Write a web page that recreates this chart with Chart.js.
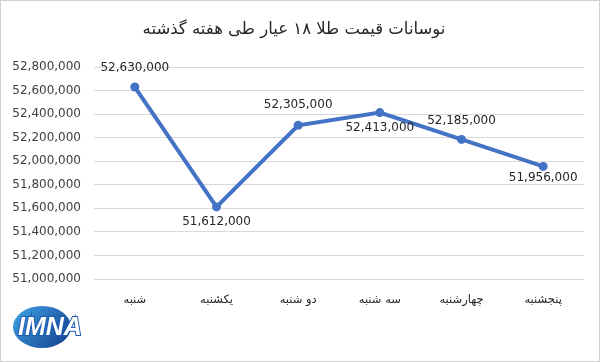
<!DOCTYPE html>
<html>
<head>
<meta charset="utf-8">
<script src="https://cdn.jsdelivr.net/npm/chart.js@4.4.1/dist/chart.umd.min.js"></script>
<style>
html,body{margin:0;padding:0;background:#fff;}
canvas{display:block;}
</style>
</head>
<body>
<canvas id="c" width="600" height="362"></canvas>
<script>
const titleText = 'نوسانات قیمت طلا ۱۸ عیار طی هفته گذشته';
const categories = ['شنبه', 'یکشنبه', 'دو شنبه', 'سه شنبه', 'چهارشنبه', 'پنجشنبه'];
const prices = [52630000, 51612000, 52305000, 52413000, 52185000, 51956000];
const yMin = 51000000;
const yMax = 52800000;
const yStep = 200000;

// label vertical offsets (style)
const labelDy = [-19, 15, -20, 15, -19, 11];

const fmt = v => Number(v).toLocaleString('en-US');

const framePlugin = {
  id: 'frame',
  beforeDraw(chart) {
    const ctx = chart.ctx;
    ctx.save();
    ctx.fillStyle = '#fff';
    ctx.fillRect(0, 0, chart.width, chart.height);
    ctx.strokeStyle = '#d0d0d0';
    ctx.lineWidth = 1;
    ctx.strokeRect(0.5, 0.5, chart.width - 1, chart.height - 1);
    // title
    ctx.fillStyle = '#262626';
    ctx.font = '16.5px "DejaVu Sans"';
    ctx.textAlign = 'center';
    ctx.textBaseline = 'middle';
    ctx.direction = 'rtl';
    ctx.fillText(titleText, 294, 30);
    ctx.restore();
  },
  afterDraw(chart) {
    const ctx = chart.ctx;
    ctx.save();
    // logo
    const g = ctx.createLinearGradient(15, 305, 70, 350);
    g.addColorStop(0, '#3fa3e6');
    g.addColorStop(1, '#123a8a');
    ctx.fillStyle = g;
    ctx.beginPath();
    ctx.ellipse(42, 327, 29, 21, 0, 0, Math.PI * 2);
    ctx.fill();
    ctx.font = 'bold italic 25px "Liberation Sans"';
    ctx.textAlign = 'left';
    ctx.textBaseline = 'middle';
    ctx.lineWidth = 2;
    ctx.strokeStyle = '#1d5bb0';
    ctx.strokeText('IMNA', 18, 328);
    ctx.fillStyle = '#fff';
    ctx.fillText('IMNA', 18, 328);
    ctx.restore();
  }
};

const labelPlugin = {
  id: 'pointLabels',
  afterDatasetsDraw(chart) {
    const ctx = chart.ctx;
    const meta = chart.getDatasetMeta(0);
    ctx.save();
    ctx.font = '12px "DejaVu Sans"';
    ctx.fillStyle = '#262626';
    ctx.textAlign = 'center';
    ctx.textBaseline = 'middle';
    meta.data.forEach((pt, i) => {
      ctx.fillText(fmt(chart.data.datasets[0].data[i]), pt.x, pt.y + labelDy[i]);
    });
    ctx.restore();
  }
};

new Chart(document.getElementById('c'), {
  type: 'line',
  data: {
    labels: categories,
    datasets: [{
      data: prices,
      borderColor: '#4472C4',
      backgroundColor: '#4472C4',
      borderWidth: 4,
      pointRadius: 4.5,
      pointBorderWidth: 0,
      pointHoverRadius: 4.5,
      pointBackgroundColor: '#4472C4',
      pointBorderColor: '#4472C4',
      tension: 0,
      fill: false
    }]
  },
  options: {
    responsive: false,
    animation: false,
    layout: { padding: { top: 67, right: 16, bottom: 0, left: 0 } },
    plugins: {
      legend: { display: false },
      title: { display: false },
      tooltip: { enabled: false }
    },
    scales: {
      x: {
        offset: true,
        grid: { display: false, drawTicks: false },
        border: { display: false },
        ticks: {
          color: '#262626',
          font: { family: '"DejaVu Sans"', size: 11.5 },
          padding: 14,
          maxRotation: 0,
          autoSkip: false
        },
        afterFit(scale) { scale.height = 83; }
      },
      y: {
        min: yMin,
        max: yMax,
        grid: { color: '#d9d9d9', drawTicks: false, lineWidth: 1 },
        border: { display: false },
        ticks: {
          stepSize: yStep,
          color: '#404040',
          font: { family: '"DejaVu Sans"', size: 12 },
          padding: 13,
          callback: v => fmt(v)
        },
        afterFit(scale) { scale.width = 94; }
      }
    }
  },
  plugins: [framePlugin, labelPlugin]
});
</script>
</body>
</html>
